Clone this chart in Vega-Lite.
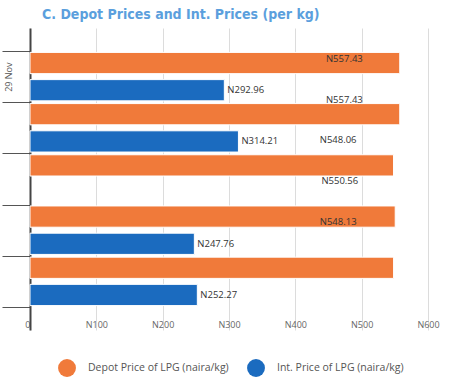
{
  "$schema": "https://vega.github.io/schema/vega-lite/v6.json",
  "width": 398,
  "height": 302,
  "autosize": "none",
  "padding": {"left": 30, "top": 28, "right": 35, "bottom": 55},
  "background": "white",
  "config": {"view": {"stroke": null}},
  "title": {
    "text": "C. Depot Prices and Int. Prices (per kg)",
    "anchor": "start",
    "frame": "group",
    "dx": 12,
    "offset": 6,
    "font": "DejaVu Sans Condensed, Roboto Condensed, Roboto",
    "fontSize": 14,
    "fontWeight": "bold",
    "color": "#5b9fdd"
  },
  "data": {
    "values": [
      {"date": "29 Nov", "series": "Depot Price of LPG (naira/kg)", "price": 557.43, "labelSlot": 1},
      {"date": "29 Nov", "series": "Int. Price of LPG (naira/kg)", "price": 292.96},
      {"date": "Day 2", "series": "Depot Price of LPG (naira/kg)", "price": 557.43, "labelSlot": 2},
      {"date": "Day 2", "series": "Int. Price of LPG (naira/kg)", "price": 314.21},
      {"date": "Day 3", "series": "Depot Price of LPG (naira/kg)", "price": 548.06, "labelSlot": 3},
      {"date": "Day 4", "series": "Depot Price of LPG (naira/kg)", "price": 550.56, "labelSlot": 4},
      {"date": "Day 4", "series": "Int. Price of LPG (naira/kg)", "price": 247.76},
      {"date": "Day 5", "series": "Depot Price of LPG (naira/kg)", "price": 548.13, "labelSlot": 5},
      {"date": "Day 5", "series": "Int. Price of LPG (naira/kg)", "price": 252.27}
    ]
  },
  "transform": [
    {"calculate": "'N' + format(datum.price, '.2f')", "as": "label"}
  ],
  "layer": [
    {
      "layer": [
        {
          "mark": {"type": "bar", "stroke": "white", "strokeWidth": 1},
          "encoding": {
            "y": {
              "field": "date",
              "type": "nominal",
              "sort": null,
              "scale": {"paddingInner": 0, "paddingOuter": 0.45},
              "axis": {
                "title": null,
                "tickBand": "extent",
                "tickSize": 28,
                "tickColor": "#555555",
                "tickWidth": 1,
                "domainColor": "#444444",
                "domainWidth": 2,
                "labelAngle": -90,
                "labelAlign": "center",
                "labelBaseline": "middle",
                "labelPadding": -6,
                "labelFont": "Open Sans",
                "labelFontSize": 9,
                "labelColor": "#555555",
                "labelExpr": "datum.value == '29 Nov' ? datum.value : ''"
              }
            },
            "yOffset": {
              "field": "series",
              "type": "nominal",
              "sort": ["Depot Price of LPG (naira/kg)", "Int. Price of LPG (naira/kg)"],
              "scale": {"paddingInner": 0.22, "paddingOuter": 0.05}
            },
            "x": {
              "field": "price",
              "type": "quantitative",
              "scale": {"domain": [0, 600], "nice": false},
              "axis": {
                "title": null,
                "values": [0, 100, 200, 300, 400, 500, 600],
                "labelExpr": "datum.value == 0 ? '0' : 'N' + datum.value",
                "labelOverlap": false,
                "labelFlush": false,
                "labelAlign": {"condition": {"test": "datum.value == 0", "value": "right"}, "value": "center"},
                "domain": false,
                "ticks": false,
                "grid": true,
                "gridColor": "#dcdcdc",
                "gridWidth": 1,
                "labelPadding": -10,
                "labelBaseline": "top",
                "labelFont": "Open Sans",
                "labelFontSize": 9,
                "labelColor": "#666666"
              }
            },
            "color": {
              "field": "series",
              "type": "nominal",
              "scale": {
                "domain": ["Depot Price of LPG (naira/kg)", "Int. Price of LPG (naira/kg)"],
                "range": ["#f07a3a", "#1b6bbf"]
              },
              "legend": {
                "title": null,
                "orient": "none",
                "legendX": 28,
                "legendY": 331,
                "direction": "horizontal",
                "symbolType": "circle",
                "symbolSize": 320,
                "symbolStrokeWidth": 0,
                "labelFont": "Open Sans",
                "labelFontSize": 10.5,
                "labelLimit": 300,
                "labelColor": "#555555",
                "columnPadding": 18,
                "labelOffset": 12
              }
            }
          }
        },
        {
          "transform": [{"filter": "datum.series == 'Int. Price of LPG (naira/kg)'"}],
          "mark": {"type": "text", "align": "left", "dx": 3, "font": "Open Sans", "fontSize": 9.5, "color": "#333333"},
          "encoding": {
            "y": {"field": "date", "type": "nominal", "sort": null},
            "yOffset": {"field": "series", "type": "nominal"},
            "x": {"field": "price", "type": "quantitative"},
            "text": {"field": "label", "type": "nominal"}
          }
        }
      ]
    },
    {
      "transform": [{"filter": "datum.series == 'Depot Price of LPG (naira/kg)'"}],
      "mark": {"type": "text", "align": "right", "dx": -37, "font": "Open Sans", "fontSize": 9.5, "color": "#333333"},
      "encoding": {
        "y": {
          "field": "labelSlot",
          "type": "ordinal",
          "scale": {"type": "point", "domain": [1, 2, 3, 4, 5, 6, 7], "align": 0.539, "padding": 0.705},
          "axis": null
        },
        "x": {"field": "price", "type": "quantitative"},
        "text": {"field": "label", "type": "nominal"}
      }
    }
  ],
  "resolve": {"scale": {"y": "independent"}}
}
